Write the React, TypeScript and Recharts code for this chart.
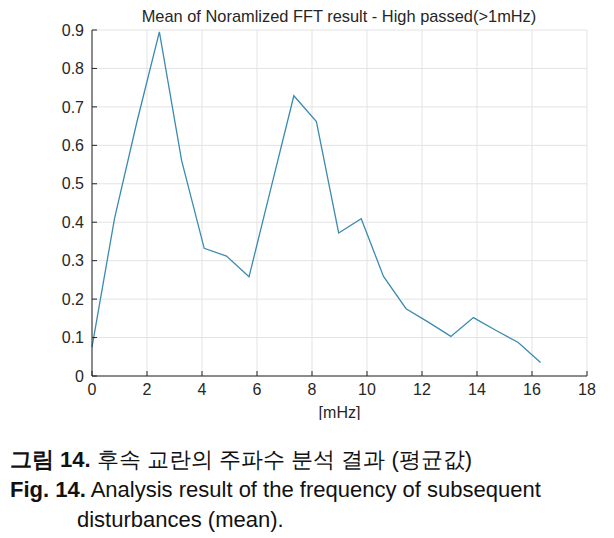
import React from 'react';
import { LineChart, Line, XAxis, YAxis, CartesianGrid } from 'recharts';

const freqs = [0, 0.82, 1.63, 2.45, 3.26, 4.08, 4.89, 5.71, 6.53, 7.34, 8.16, 8.97, 9.79, 10.6, 11.42, 12.23, 13.05, 13.87, 14.68, 15.5, 16.31];
const meanFft = [0.075, 0.41, 0.66, 0.895, 0.56, 0.332, 0.312, 0.258, 0.495, 0.729, 0.662, 0.372, 0.409, 0.259, 0.175, 0.14, 0.103, 0.152, 0.119, 0.087, 0.035];
const xTicks = [0, 2, 4, 6, 8, 10, 12, 14, 16, 18];
const yTicks = [0, 0.1, 0.2, 0.3, 0.4, 0.5, 0.6, 0.7, 0.8, 0.9];

const data = freqs.map((f, i) => ({ f, v: meanFft[i] }));

const tickFont = { fontFamily: 'Liberation Sans, Arial, sans-serif', fontSize: 16, fill: '#262626' };

export default function App() {
  return (
    <div style={{ position: 'absolute', left: 0, top: 0, width: 614, height: 538, background: '#fff', fontFamily: 'Liberation Sans, Arial, sans-serif' }}>
      <div style={{ position: 'absolute', left: 0, top: 7, width: 614, textAlign: 'center', paddingLeft: 64, boxSizing: 'border-box', fontSize: 16.4, color: '#262626' }}>
        Mean of Noramlized FFT result - High passed(&gt;1mHz)
      </div>
      <LineChart
        width={614}
        height={420}
        data={data}
        margin={{ top: 30, right: 27, left: 0, bottom: 0 }}
        style={{ position: 'absolute', left: 0, top: 0 }}
      >
        <CartesianGrid stroke="#e3e3e3" horizontal vertical />
        <XAxis
          dataKey="f"
          type="number"
          domain={[0, 18]}
          ticks={xTicks}
          height={44}
          stroke="#262626"
          tickSize={-5}
          tickMargin={13}
          tick={tickFont}
          label={{ value: '[mHz]', position: 'insideBottom', offset: 2, style: { ...tickFont } }}
        />
        <YAxis
          type="number"
          domain={[0, 0.9]}
          ticks={yTicks}
          width={92}
          stroke="#262626"
          tickSize={-5}
          tickMargin={13}
          tick={tickFont}
          tickFormatter={(v: number) => String(v)}
        />
        <Line
          type="linear"
          dataKey="v"
          stroke="#3b8bb0"
          strokeWidth={1.3}
          dot={false}
          isAnimationActive={false}
        />
      </LineChart>
      <div style={{ position: 'absolute', left: 10, top: 445, fontSize: 22, color: '#111', lineHeight: '30px' }}>
        <div><b>그림 14.</b> 후속 교란의 주파수 분석 결과 (평균값)</div>
        <div><b>Fig. 14.</b> Analysis result of the frequency of subsequent</div>
        <div style={{ paddingLeft: 67 }}>disturbances (mean).</div>
      </div>
    </div>
  );
}
